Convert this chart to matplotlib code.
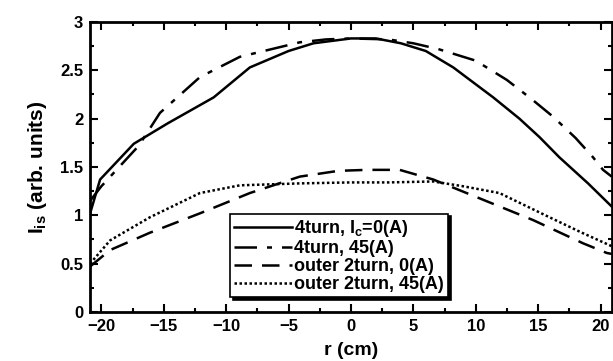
import matplotlib
matplotlib.use("Agg")
import matplotlib.pyplot as plt
from matplotlib.ticker import MultipleLocator

plt.rcParams.update({
    "font.family": ["Liberation Sans", "DejaVu Sans"],
    "font.weight": "bold",
    "axes.labelweight": "bold",
    "mathtext.default": "regular",
})

# --- données ---
r_4t0 = [-20.9, -20.1, -17.4, -14.7, -11.0, -8.1, -5.0, -3.0, 0.0, 2.0, 4.0, 6.0,
         8.2, 11.4, 13.5, 15.1, 16.7, 19.0, 20.9]
y_4t0 = [1.02, 1.37, 1.74, 1.95, 2.22, 2.53, 2.70, 2.78, 2.83, 2.83, 2.78, 2.70,
         2.53, 2.22, 2.00, 1.81, 1.60, 1.33, 1.09]

r_4t45 = [-20.9, -20.0, -17.0, -15.3, -12.1, -8.9, -4.1, -2.0, 0.0, 3.0, 5.0, 7.0,
          10.0, 12.5, 14.5, 16.2, 18.0, 19.4, 20.2, 20.9]
y_4t45 = [1.15, 1.30, 1.72, 2.06, 2.43, 2.64, 2.79, 2.82, 2.83, 2.82, 2.78, 2.72,
          2.60, 2.40, 2.20, 2.02, 1.80, 1.60, 1.47, 1.40]

r_o0 = [-20.9, -19.3, -16.1, -12.1, -8.1, -4.1, -1.0, 1.3, 3.9, 6.6, 10.6, 14.6,
        18.6, 20.5, 20.9]
y_o0 = [0.47, 0.64, 0.82, 1.02, 1.23, 1.40, 1.46, 1.47, 1.47, 1.37, 1.16, 0.95,
        0.71, 0.61, 0.60]

r_o45 = [-20.9, -19.3, -16.1, -12.1, -8.9, -4.1, 0.0, 3.0, 6.6, 9.0, 11.9, 15.9,
         18.5, 20.9]
y_o45 = [0.50, 0.74, 0.98, 1.23, 1.31, 1.33, 1.34, 1.34, 1.35, 1.30, 1.23, 0.98,
         0.82, 0.68]

labels = ["4turn, I$_c$=0(A)", "4turn, 45(A)", "outer 2turn, 0(A)", "outer 2turn, 45(A)"]

fig = plt.figure(figsize=(6.13, 3.61), dpi=100)
ax = fig.add_axes([0.147, 0.136, 0.851, 0.803])

ax.plot(r_4t0, y_4t0, color="k", lw=1.8, ls="-", label=labels[0])
ax.plot(r_4t45, y_4t45, color="k", lw=1.8, dashes=(9, 4, 2, 4), label=labels[1])
ax.plot(r_o0, y_o0, color="k", lw=1.8, dashes=(7, 4), label=labels[2])
ax.plot(r_o45, y_o45, color="k", lw=1.8, dashes=(1, 1), label=labels[3])

ax.set_xlim(-20.9, 20.9)
ax.set_ylim(0, 3)
ax.xaxis.set_major_locator(MultipleLocator(5))
ax.xaxis.set_minor_locator(MultipleLocator(2.5))
ax.yaxis.set_major_locator(MultipleLocator(0.5))
ax.yaxis.set_minor_locator(MultipleLocator(0.25))
ax.yaxis.set_major_formatter(plt.FuncFormatter(lambda v, p: f"{v:g}"))
ax.tick_params(which="both", direction="in", top=True, right=True, width=1.5)
ax.tick_params(which="major", length=6, labelsize=12, pad=5)
ax.tick_params(which="minor", length=3)
for s in ax.spines.values():
    s.set_linewidth(2)

ax.set_xlabel("r (cm)", fontsize=14, labelpad=6)
ax.set_ylabel("I$_{is}$ (arb. units)", fontsize=15, labelpad=8)

leg = ax.legend(loc="lower left", bbox_to_anchor=(0.268, 0.05), fontsize=13,
                frameon=True, fancybox=False, edgecolor="k", borderpad=0.25,
                borderaxespad=0, labelspacing=0.05, handlelength=3.2,
                handletextpad=0.1,
                shadow={"color": "k", "alpha": 1, "ox": 2, "oy": -2})
leg.get_frame().set_linewidth(1.2)

fig.savefig("out.png", dpi=100)
